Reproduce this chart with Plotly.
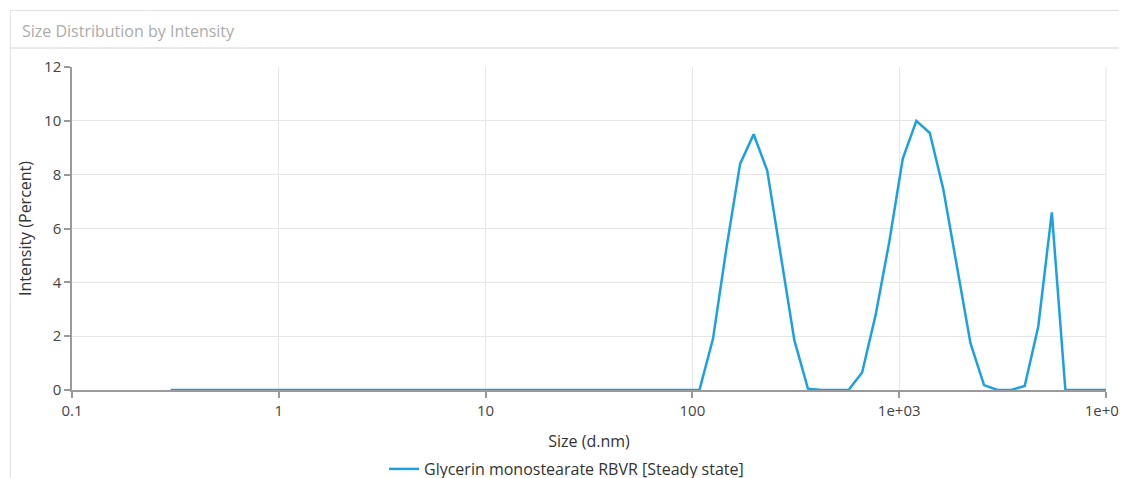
import plotly.graph_objects as go

# Size bins (d.nm)
sizes = [0.3000, 0.3488, 0.4057, 0.4718, 0.5487, 0.6381, 0.7421, 0.8630, 1.0035, 1.1670,
         1.3572, 1.5784, 1.8356, 2.1348, 2.4826, 2.8872, 3.3577, 3.9049, 4.5394, 5.2811,
         6.1417, 7.1426, 8.3066, 9.6602, 11.234, 13.065, 15.194, 17.670, 20.549, 23.898,
         27.792, 32.321, 37.588, 43.713, 50.837, 59.121, 68.755, 79.959, 92.989, 108.14,
         125.76, 146.26, 170.09, 197.81, 230.04, 267.53, 311.12, 361.82, 420.78, 489.35,
         569.09, 661.83, 769.68, 895.10, 1040.9, 1210.6, 1405.9, 1635.0, 1901.4, 2211.3,
         2571.6, 2990.6, 3477.9, 4044.7, 4703.8, 5470.2, 6361.6, 7398.3, 8603.8, 10000.0]

# Intensity (%)
intensity = [0, 0, 0, 0, 0, 0, 0, 0, 0, 0,
             0, 0, 0, 0, 0, 0, 0, 0, 0, 0,
             0, 0, 0, 0, 0, 0, 0, 0, 0, 0,
             0, 0, 0, 0, 0, 0, 0, 0, 0, 0,
             1.9, 5.3, 8.4, 9.5, 8.15, 5.0, 1.85, 0.05, 0, 0,
             0, 0.65, 2.8, 5.5, 8.6, 10.0, 9.55, 7.45, 4.6, 1.74,
             0.18, 0, 0, 0.15, 2.36, 6.6, 0, 0, 0, 0]

series_name = "Glycerin monostearate RBVR [Steady state]"
chart_title = "Size Distribution by Intensity"
x_tickvals = [0.1, 1, 10, 100, 1000, 10000]
x_ticktext = ["0.1", "1", "10", "100", "1e+03", "1e+04"]
y_tickvals = [0, 2, 4, 6, 8, 10, 12]

FONT = "Open Sans, Noto Sans, sans-serif"
LINE_COLOR = "#1BA1E2"
AXIS_COLOR = "#9a9a9a"
GRID_COLOR = "#e6e6e6"

# The page body adds an 8 px offset; work in page pixels and convert.
OFF = 8
W, H = 1127, 478
PL, PR, PT, PB = 72, 1106, 67, 390  # plot area in page pixels
L = PL - OFF
T = PT - OFF
R = W - (PR - OFF)
B = H - (PB - OFF)
pw, ph = PR - PL, PB - PT


def px(x):
    return (x - PL) / pw


def py(y):
    return (PB - y) / ph


def cx(x):
    return (x - OFF) / W


def cy(y):
    return 1 - (y - OFF) / H


fig = go.Figure()
fig.add_trace(go.Scatter(
    x=sizes, y=intensity, mode="lines", name=series_name,
    line=dict(color=LINE_COLOR, width=2.5), showlegend=True,
))

fig.update_layout(
    width=W, height=H,
    margin=dict(l=L, r=R, t=T, b=B),
    paper_bgcolor="white", plot_bgcolor="white",
    font=dict(family=FONT, size=15, color="#444444"),
    xaxis=dict(
        type="log", range=[-1, 4],
        tickvals=x_tickvals, ticktext=x_ticktext,
        showgrid=True, gridcolor=GRID_COLOR, gridwidth=1,
        showline=True, linecolor=AXIS_COLOR, linewidth=1.5,
        ticks="outside", ticklen=6, tickcolor=AXIS_COLOR, tickwidth=1.5,
        zeroline=False, automargin=False, ticklabeloverflow="allow",
        tickfont=dict(size=15, color="#444444"),
        title=dict(text="Size (d.nm)", font=dict(size=16, color="#333333"), standoff=22),
    ),
    yaxis=dict(
        range=[0, 12], tickvals=y_tickvals,
        showgrid=True, gridcolor=GRID_COLOR, gridwidth=1,
        showline=True, linecolor=AXIS_COLOR, linewidth=1.5,
        ticks="outside", ticklen=6, tickcolor=AXIS_COLOR, tickwidth=1.5,
        zeroline=False, automargin=False,
        tickfont=dict(size=15, color="#444444"),
        title=dict(text="Intensity (Percent)", font=dict(size=16, color="#333333"), standoff=8),
    ),
    legend=dict(
        orientation="h", xref="container", yref="container",
        x=cx(384), xanchor="left", y=cy(469), yanchor="middle",
        font=dict(size=16, color="#333333"), itemwidth=30,
        bgcolor="rgba(0,0,0,0)",
    ),
    shapes=[
        dict(type="rect", xref="paper", yref="paper",
             x0=px(10.5), x1=px(1150), y0=py(10.5), y1=py(520),
             line=dict(color="#e2e2e2", width=1), layer="below"),
        dict(type="line", xref="paper", yref="paper",
             x0=px(10.5), x1=px(1150), y0=py(48), y1=py(48),
             line=dict(color="#e2e2e2", width=1.5), layer="below"),
        dict(type="line", xref="paper", yref="paper",
             x0=1, x1=1, y0=0, y1=1,
             line=dict(color=GRID_COLOR, width=1), layer="below"),
    ],
    annotations=[
        dict(text=chart_title, xref="paper", yref="paper",
             x=px(20), y=py(31), xanchor="left", yanchor="middle",
             showarrow=False, font=dict(size=16, color="#ababab", family=FONT)),
    ],
)

fig.write_html("out.html")
